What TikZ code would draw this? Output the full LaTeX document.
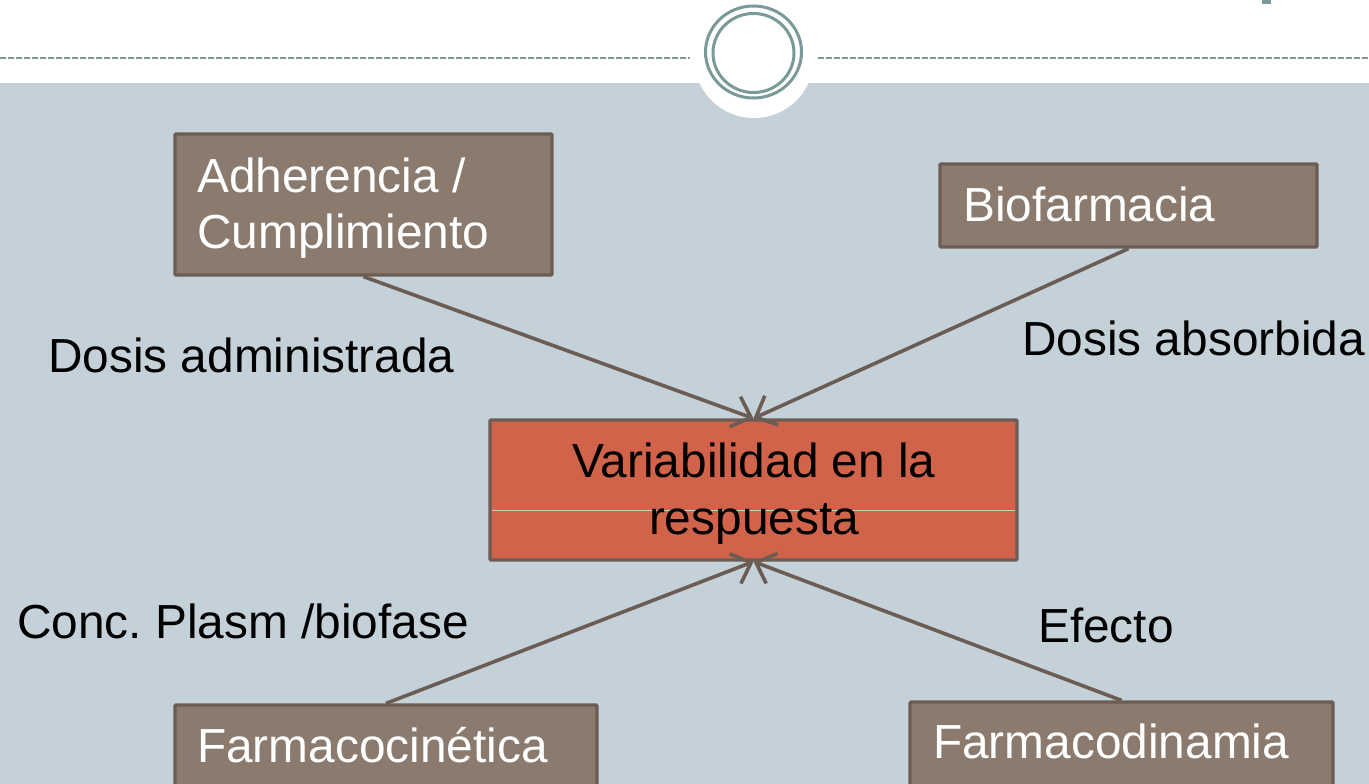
\documentclass[tikz,border=0pt]{standalone}
\usepackage{fontspec}
\setmainfont{Liberation Sans}
\usetikzlibrary{arrows.meta}
\definecolor{bgblue}{HTML}{C5D1D8}
\definecolor{boxfill}{HTML}{8B7B6F}
\definecolor{boxline}{HTML}{6B5D54}
\definecolor{centerfill}{HTML}{D0634A}
\definecolor{tealgrey}{HTML}{7A9A98}
\definecolor{sepline}{HTML}{C9CDD2}
\tikzset{
  box/.style={draw=boxline, fill=boxfill, line width=3.2pt, inner sep=0pt, rounded corners=1pt},
  centerbox/.style={draw=boxline, fill=centerfill, line width=3.2pt, inner sep=0pt, rounded corners=1pt},
  boxtext/.style={text=white, inner sep=0pt, font=\fontsize{47.8}{56}\selectfont},
  lbl/.style={text=black, inner sep=0pt, font=\fontsize{47.8}{56}\selectfont},
  conn/.style={draw=boxline, line width=3.6pt, -{Straight Barb[length=17pt,width=32pt,line width=3.6pt]}},
}
\begin{document}
\frenchspacing
\begin{tikzpicture}[x=1pt,y=-1pt]
\useasboundingbox (0,0) rectangle (1369,784);
% backgrounds
\fill[white] (0,0) rectangle (1369,83);
\fill[bgblue] (0,83) rectangle (1369,784);
\fill[white] (754,58) circle (60);
% header dashed line
\draw[tealgrey, line width=1.4pt, dash pattern=on 6pt off 2pt] (0,58) -- (690,58);
\draw[tealgrey, line width=1.4pt, dash pattern=on 6pt off 2pt] (818,58) -- (1369,58);
% header rings
\draw[tealgrey, line width=3pt] (753.5,52) ellipse (48 and 46);
\draw[tealgrey, line width=3pt] (753.5,53) ellipse (40.5 and 39.5);
% partial title glyph top right
\fill[tealgrey] (1262,0) rectangle (1271,4);
% boxes
\node[box, minimum width=377pt, minimum height=141pt] (adh) at (363.5,204.5) {};
\node[box, minimum width=377pt, minimum height=83pt] (bio) at (1128.5,205.5) {};
\node[box, minimum width=422pt, minimum height=120pt] (fcin) at (386,765) {};
\node[box, minimum width=423pt, minimum height=120pt] (fdin) at (1121.5,762) {};
\node[centerbox, minimum width=527pt, minimum height=140pt] (var) at (753.5,490) {};
\draw[sepline, line width=1pt] (492,510) -- (1015,510);
% box texts
\node[boxtext, anchor=base west] (adht1) at (197,192) {Adherencia /};
\node[boxtext, anchor=base west] (adht2) at (197,248) {Cumplimiento};
\node[boxtext, anchor=base west] (biot) at (963,221) {Biofarmacia};
\node[boxtext, anchor=base west] (fcint) at (197,762) {Farmacocinética};
\node[boxtext, anchor=base west] (fdint) at (933,758) {Farmacodinamia};
\node[lbl, anchor=base] (vart1) at (754,477) {Variabilidad en la};
\node[lbl, anchor=base] (vart2) at (754,534) {respuesta};
% labels
\node[lbl, anchor=base west] (l1) at (48,372) {Dosis administrada};
\node[lbl, anchor=base west] (l2) at (1022,355) {Dosis absorbida};
\node[lbl, anchor=base west] (l3) at (17,638) {Conc. Plasm /biofase};
\node[lbl, anchor=base west] (l4) at (1038,642) {Efecto};
% connectors
\draw[conn] (adh.south) -- (var.north);
\draw[conn] (bio.south) -- (var.north);
\draw[conn] (fcin.north) -- (var.south);
\draw[conn] (fdin.north) -- (var.south);
\end{tikzpicture}
\end{document}
